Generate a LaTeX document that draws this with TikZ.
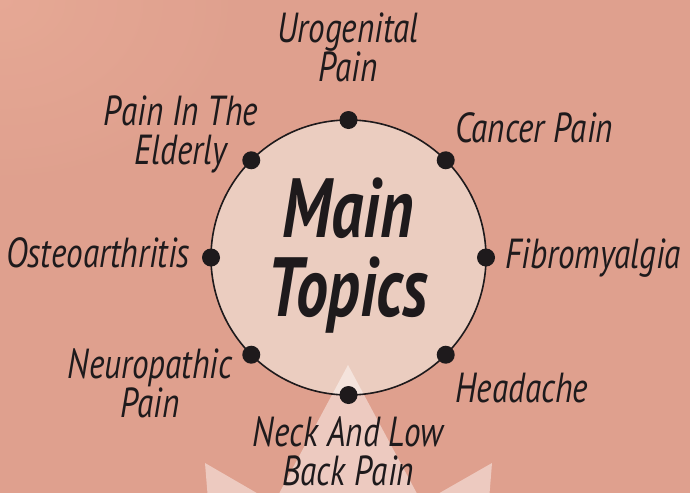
\documentclass[tikz,border=0pt]{standalone}
\usepackage{fontspec}
\setmainfont{PT Sans}[FakeStretch=0.79]
\newfontfamily\titlefont{PT Sans}[FakeStretch=0.76]
\definecolor{bg}{RGB}{223,160,142}
\definecolor{bglight}{RGB}{233,172,152}
\definecolor{circfill}{RGB}{235,205,192}
\definecolor{ink}{RGB}{30,26,28}
\begin{document}
\begin{tikzpicture}[x=1pt,y=-1pt,
  lbl/.style={font=\fontsize{42}{39}\selectfont\itshape, text=ink, align=center, inner sep=0pt},
  dotnode/.style={circle, fill=ink, minimum size=18pt, inner sep=0pt}]
\useasboundingbox (0,0) rectangle (690,493);
\fill[bg] (0,0) rectangle (690,493);
\shade[inner color=bglight, outer color=bg, opacity=.7] (0,0) ellipse [x radius=260, y radius=200];
\node[circle, minimum size=275pt, inner sep=0pt, outer sep=0pt, fill=circfill] (c) at (348.5,257.5) {};
\begin{scope}
\clip (0,0) rectangle (690,493);
\fill[white, opacity=.45] (208,500) -- (205,463) -- (274,503) -- (348,365) -- (422,503) -- (492,463) -- (489,500) -- cycle;
\end{scope}
\draw[ink, line width=1.6pt] (c.center) circle [radius=137.5];
\node[dotnode] (d1) at (c.90) {};
\node[dotnode] (d2) at (c.45) {};
\node[dotnode] (d3) at (c.0) {};
\node[dotnode] (d4) at (c.-45) {};
\node[dotnode] (d5) at (c.-90) {};
\node[dotnode] (d6) at (c.-135) {};
\node[dotnode] (d7) at (c.180) {};
\node[dotnode] (d8) at (c.135) {};
\node[font=\fontsize{84}{79}\selectfont\titlefont\bfseries\itshape, text=ink, align=center, inner sep=0pt] (mt) at (348,256) {Main\\Topics};
\node[lbl] (uro) at (348,47.5) {Urogenital\\Pain};
\node[lbl] (eld) at (181,134) {Pain In The\\Elderly};
\node[lbl, anchor=base] (can) at (534,142) {Cancer Pain};
\node[lbl, anchor=base] (ost) at (98,267) {Osteoarthritis};
\node[lbl, anchor=base] (fib) at (593,268) {Fibromyalgia};
\node[lbl] (neu) at (150,383) {Neuropathic\\Pain};
\node[lbl, anchor=base] (hea) at (522,402) {Headache};
\node[lbl] (nec) at (348,451) {Neck And Low\\Back Pain};
\end{tikzpicture}
\end{document}
